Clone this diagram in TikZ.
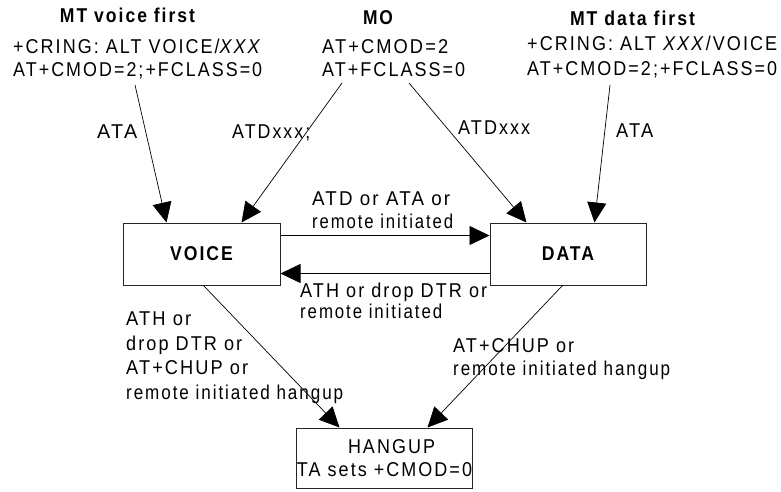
\documentclass[tikz,border=0pt]{standalone}
\usepackage{graphicx}
\usepackage{fontspec}
\setmainfont{Liberation Sans}[FakeStretch=0.88, LetterSpace=10]
\usetikzlibrary{arrows.meta}
\newcommand\lbl{\fontsize{20}{23}\selectfont}
\newcommand\fitw[2]{\resizebox{#1}{\height}{#2}}
\tikzset{
  txt/.style={inner sep=0pt, font=\lbl},
  ttl/.style={inner sep=0pt, font=\lbl\bfseries, anchor=base},
  lft/.style={txt, anchor=base west},
  statebox/.style={draw=black!85, line width=1pt, inner sep=0pt, font=\lbl},
  conn/.style={line width=0.7pt, -{Triangle[length=20pt,width=19pt]}},
}
\begin{document}
\begin{tikzpicture}[x=1pt,y=-1pt]
\useasboundingbox (0,0) rectangle (781,492);
% top texts
\node[ttl] (t1) at (127.5,23) {\fitw{135pt}{MT voice first}};
\node[lft] (v2) at (13,54) {\fitw{249pt}{+CRING: ALT VOICE/\textit{XXX}}};
\node[lft] (v3) at (13,77) {\fitw{249pt}{AT+CMOD=2;+FCLASS=0}};
\node[ttl] (t2) at (378,25) {\fitw{30pt}{MO}};
\node[lft] (m2) at (322,54) {\fitw{126pt}{AT+CMOD=2}};
\node[lft] (m3) at (322,77) {\fitw{143pt}{AT+FCLASS=0}};
\node[ttl] (t3) at (632.5,26) {\fitw{125pt}{MT data first}};
\node[lft] (d2) at (527,51) {\fitw{250pt}{+CRING: ALT \textit{XXX}/VOICE}};
\node[lft] (d3) at (527,76) {\fitw{250pt}{AT+CMOD=2;+FCLASS=0}};
% states
\node[statebox, minimum width=157pt, minimum height=62pt, font=\lbl\bfseries] (voice) at (201.5,254) {VOICE};
\node[statebox, minimum width=156pt, minimum height=62pt, font=\lbl\bfseries] (data) at (568,254) {DATA};
\node[statebox, minimum width=175pt, minimum height=60pt, align=center] (hangup) at (384.5,458)
  {\hspace*{14pt}\fitw{87pt}{HANGUP}\\\fitw{175pt}{TA sets +CMOD=0}};
% sources
\coordinate (s1) at (135,85);
\coordinate (s2) at (342,83);
\coordinate (s3) at (409,83);
\coordinate (s4) at (610,85);
% connectors
\draw[conn] (s1) -- ([xshift=44pt]voice.north west);
\draw[conn] (s2) -- ([xshift=119pt]voice.north west);
\draw[conn] (s3) -- ([xshift=37pt]data.north west);
\draw[conn] (s4) -- ([xshift=105pt]data.north west);
\draw[conn] ([yshift=-13pt]voice.north east) -- ([yshift=-13pt]data.north west);
\draw[conn] ([yshift=12pt]data.south west) -- ([yshift=12pt]voice.south east);
\draw[conn] ([xshift=81pt]voice.south west) -- ([xshift=43pt]hangup.north west);
\draw[conn] ([xshift=73pt]data.south west) -- ([xshift=131pt]hangup.north west);
% labels
\node[lft] (l1) at (97,139) {\fitw{40pt}{ATA}};
\node[lft] (l2) at (232,139) {\fitw{78pt}{ATDxxx;}};
\node[lft] (l3) at (458,135) {\fitw{72pt}{ATDxxx}};
\node[lft] (l4) at (616,138) {\fitw{37pt}{ATA}};
\node[lft] (l5a) at (312,205) {\fitw{138pt}{ATD or ATA or}};
\node[lft] (l5b) at (312,228) {\fitw{141pt}{remote initiated}};
\node[lft] (l6a) at (300,297) {\fitw{187pt}{ATH or drop DTR or}};
\node[lft] (l6b) at (300,318) {\fitw{142pt}{remote initiated}};
\node[lft] (l7a) at (126,325) {\fitw{65pt}{ATH or}};
\node[lft] (l7b) at (126,350) {\fitw{116pt}{drop DTR or}};
\node[lft] (l7c) at (126,374) {\fitw{122pt}{AT+CHUP or}};
\node[lft] (l7d) at (126,399) {\fitw{217pt}{remote initiated hangup}};
\node[lft] (l8a) at (453,352) {\fitw{121pt}{AT+CHUP or}};
\node[lft] (l8b) at (453,375) {\fitw{217pt}{remote initiated hangup}};
\end{tikzpicture}
\end{document}
